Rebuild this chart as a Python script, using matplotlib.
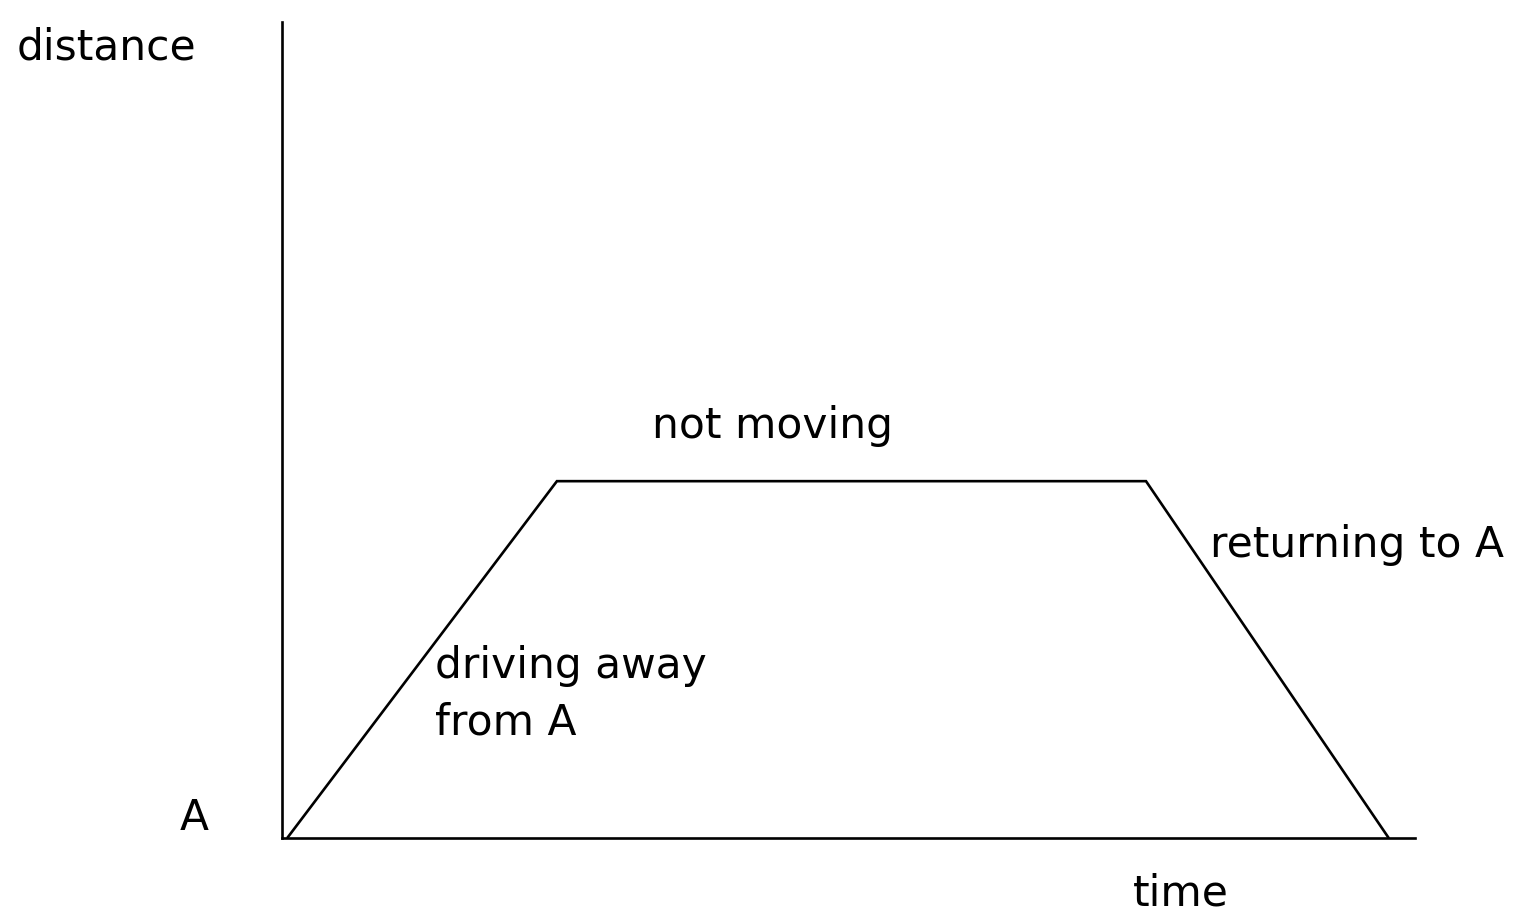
import matplotlib
matplotlib.use("Agg")
import matplotlib.pyplot as plt

# journey: time vs distance from A
time = [0, 5, 15.95, 20.45]
distance = [0, 4, 4, 0]

segment_labels = ["driving away\nfrom A", "not moving", "returning to A"]
label_pos = [(2.73, 1.15), (6.77, 4.48), (17.14, 3.15)]

W, H = 1521, 913
fig = plt.figure(figsize=(W / 100, H / 100), dpi=100)
ax = fig.add_axes([282 / W, 75 / H, (1415 - 282) / W, (891 - 75) / H])

ax.plot(time, distance, color="black", lw=1.9, solid_joinstyle="miter")
ax.set_xlim(-0.11, 20.95)
ax.set_ylim(-0.01, 9.16)

for side in ["top", "right"]:
    ax.spines[side].set_visible(False)
for side in ["left", "bottom"]:
    ax.spines[side].set_linewidth(1.9)
ax.set_xticks([])
ax.set_yticks([])

fs = 30.5
for txt, (x, y) in zip(segment_labels, label_pos):
    ax.text(x, y, txt, fontsize=fs, ha="left", va="baseline", linespacing=1.45)

fig.text(17 / W, 1 - 60 / H, "distance", fontsize=fs, ha="left", va="baseline")
fig.text(180 / W, 1 - 830 / H, "A", fontsize=fs, ha="left", va="baseline")
fig.text(1133 / W, 1 - 905 / H, "time", fontsize=fs, ha="left", va="baseline")

fig.savefig("out.png", dpi=100)
